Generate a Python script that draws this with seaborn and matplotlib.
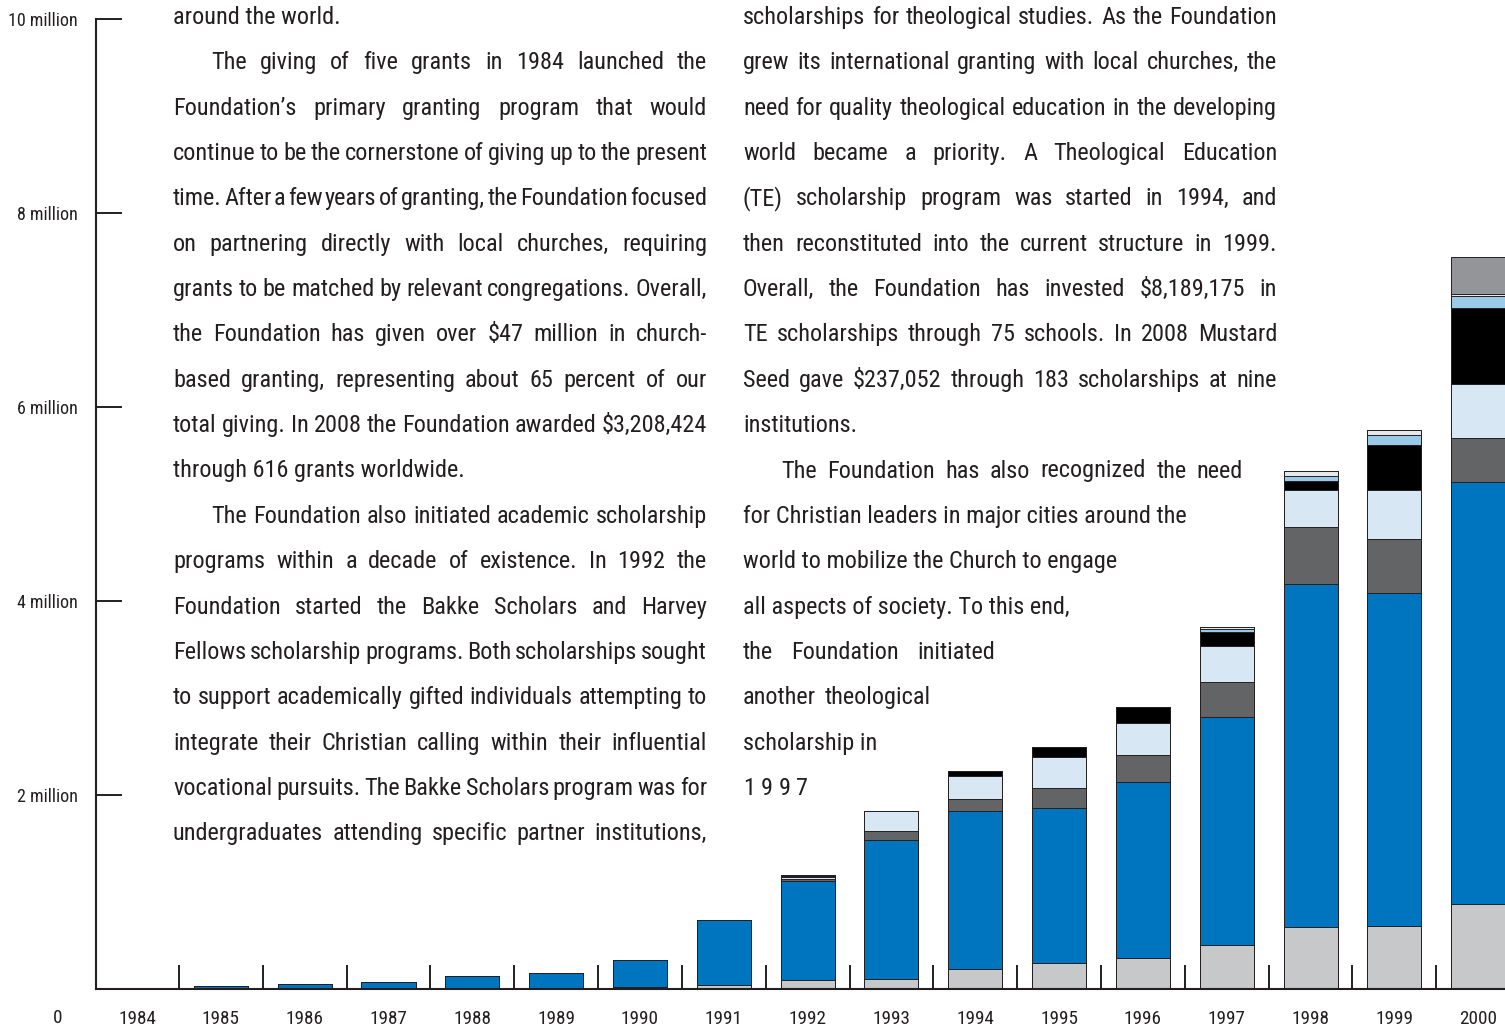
import matplotlib
matplotlib.use("Agg")
import numpy as np
import pandas as pd
import matplotlib.pyplot as plt
import seaborn as sns
from matplotlib import font_manager

# grants per year in millions of dollars, stacked bottom -> top
years = [str(y) for y in range(1984, 2001)]
seg_light_gray = [0.015, 0, 0, 0, 0, 0, 0.02, 0.04, 0.09, 0.10, 0.21, 0.27, 0.32, 0.45, 0.64, 0.65, 0.88]
seg_blue = [0, 0.035, 0.05, 0.07, 0.13, 0.16, 0.28, 0.67, 1.02, 1.44, 1.62, 1.60, 1.81, 2.35, 3.54, 3.43, 4.35]
seg_dark_gray = [0, 0, 0, 0, 0, 0, 0, 0, 0.02, 0.09, 0.13, 0.20, 0.28, 0.37, 0.58, 0.56, 0.45]
seg_pale_blue = [0, 0, 0, 0, 0, 0, 0, 0, 0.02, 0.21, 0.24, 0.32, 0.33, 0.37, 0.38, 0.50, 0.56]
seg_black = [0, 0, 0, 0, 0, 0, 0, 0, 0.01, 0, 0.05, 0.11, 0.17, 0.14, 0.10, 0.47, 0.78]
seg_light_blue = [0, 0, 0, 0, 0, 0, 0, 0, 0.01, 0, 0, 0, 0, 0.03, 0.05, 0.10, 0.12]
seg_near_white = [0, 0, 0, 0, 0, 0, 0, 0, 0.01, 0, 0, 0, 0, 0.02, 0.05, 0.05, 0.03]
seg_mid_gray = [0, 0, 0, 0, 0, 0, 0, 0, 0, 0, 0, 0, 0, 0, 0, 0, 0.38]

ytick_vals = [2, 4, 6, 8, 10]
ytick_labels = ["2 million", "4 million", "6 million", "8 million", "10 million"]

left_lines = [
    ("around the world.", "l"),
    ("The giving of five grants in 1984 launched the", "ij"),
    ("Foundation\u2019s primary granting program that would", "j"),
    ("continue to be the cornerstone of giving up to the present", "j"),
    ("time. After a few years of granting, the Foundation focused", "j"),
    ("on partnering directly with local churches, requiring", "j"),
    ("grants to be matched by relevant congregations. Overall,", "j"),
    ("the Foundation has given over $47 million in church-", "j"),
    ("based granting, representing about 65 percent of our", "j"),
    ("total giving. In 2008 the Foundation awarded $3,208,424", "j"),
    ("through 616 grants worldwide.", "l"),
    ("The Foundation also initiated academic scholarship", "ij"),
    ("programs within a decade of existence. In 1992 the", "j"),
    ("Foundation started the Bakke Scholars and Harvey", "j"),
    ("Fellows scholarship programs. Both scholarships sought", "j"),
    ("to support academically gifted individuals attempting to", "j"),
    ("integrate their Christian calling within their influential", "j"),
    ("vocational pursuits. The Bakke Scholars program was for", "j"),
    ("undergraduates attending specific partner institutions,", "j"),
]
right_lines = [
    ("scholarships for theological studies. As the Foundation", "j"),
    ("grew its international granting with local churches, the", "j"),
    ("need for quality theological education in the developing", "j"),
    ("world became a priority. A Theological Education", "j"),
    ("(TE) scholarship program was started in 1994, and", "j"),
    ("then reconstituted into the current structure in 1999.", "j"),
    ("Overall, the Foundation has invested $8,189,175 in", "j"),
    ("TE scholarships through 75 schools. In 2008 Mustard", "j"),
    ("Seed gave $237,052 through 183 scholarships at nine", "j"),
    ("institutions.", "l"),
    ("The Foundation has also recognized the need", "ij"),
    ("for Christian leaders in major cities around the", "l"),
    ("world to mobilize the Church to engage", "l"),
    ("all aspects of society. To this end,", "l"),
    ("the Foundation initiated", "j"),
    ("another theological", "j"),
    ("scholarship in", "l"),
    ("1 9 9 7", "j"),
]

colors = ["#c7c8ca", "#0075bf", "#636466", "#d8e7f4", "#000000", "#9bc9e8", "#e6e7e8", "#939598"]
ink = "#231f20"

sns.set_theme(style="white")

W, H = 1505, 1029
fig = plt.figure(figsize=(W / 100, H / 100), dpi=100)
ax = fig.add_axes([96 / W, 40 / H, 1 - 96 / W, 970 / H])

# pick a condensed face if available
names = {f.name for f in font_manager.fontManager.ttflist}
font_kw = {"family": "DejaVu Sans", "stretch": "condensed"}
for cand in ["Liberation Sans Narrow", "Roboto Condensed", "Open Sans Condensed"]:
    if cand in names:
        font_kw = {"family": cand}
        break

renderer = fig.canvas.get_renderer()


def measure(s, size):
    t = fig.text(0, 0, s, fontsize=size, parse_math=False, **font_kw)
    w = t.get_window_extent(renderer).width
    t.remove()
    return w


body_size = 20 * 290 / measure("through 616 grants worldwide.", 20)
tick_size = 14 * 70 / measure("10 million", 14)
year_size = 14 * 38 / measure("1984", 14)

# stacked bars: draw cumulative totals from the top segment down
stack = np.array([seg_light_gray, seg_blue, seg_dark_gray, seg_pale_blue,
                  seg_black, seg_light_blue, seg_near_white, seg_mid_gray])
cum = np.cumsum(stack, axis=0)
df = pd.DataFrame(cum.T, columns=[f"c{k}" for k in range(len(colors))])
df["year"] = years
for k in reversed(range(len(colors))):
    sns.barplot(data=df, x="year", y=f"c{k}", color=colors[k], saturation=1,
                width=0.645, edgecolor=ink, linewidth=0.7, errorbar=None, ax=ax)

ax.set_xlim(-0.49, 16.32)
ax.set_ylim(0, 10)
ax.set_xlabel("")
ax.set_ylabel("")
for side in ["top", "right"]:
    ax.spines[side].set_visible(False)
for side in ["left", "bottom"]:
    ax.spines[side].set_linewidth(1.5)
    ax.spines[side].set_color(ink)

ax.set_xticks(np.arange(len(years)))
ax.set_xticklabels(years)
ax.set_xticks(np.arange(0.5, len(years) - 1), minor=True)
ax.tick_params(axis="x", which="major", bottom=True, length=0, pad=15,
               labelsize=year_size, labelcolor=ink)
ax.tick_params(axis="x", which="minor", bottom=True, direction="in", length=17.5,
               width=1.4, color=ink)
ax.set_yticks(ytick_vals)
ax.set_yticklabels(ytick_labels)
ax.tick_params(axis="y", which="major", left=True, direction="in", length=18.7,
               width=1.4, color=ink, pad=13, labelsize=tick_size, labelcolor=ink)
for lab in ax.get_xticklabels() + ax.get_yticklabels():
    lab.set_fontfamily(font_kw["family"])
    if "stretch" in font_kw:
        lab.set_fontstretch(font_kw["stretch"])
fig.text(62 / W, 1 - 1018 / H, "0", ha="right", va="center", fontsize=year_size,
         color=ink, **font_kw)


def put_line(s, mode, x0, x1, y):
    kw = dict(fontsize=body_size, color=ink, va="baseline", parse_math=False, **font_kw)
    if mode.startswith("i"):
        x0 += 38
    if "j" not in mode:
        fig.text(x0 / W, 1 - y / H, s, **kw)
        return
    words = s.split()
    widths = [measure(w, body_size) for w in words]
    gap = (x1 - x0 - sum(widths)) / max(len(words) - 1, 1)
    x = x0
    for w, wd in zip(words, widths):
        fig.text(x / W, 1 - y / H, w, **kw)
        x += wd + gap


line_step = 45.35
for i, (s, mode) in enumerate(left_lines):
    put_line(s, mode, 173, 707, 24 + i * line_step)

right_edges = [1277] * 10 + [1243, 1182, 1121, 1057, 995, 931, 870, 808]
for i, (s, mode) in enumerate(right_lines):
    put_line(s, mode, 743, right_edges[i], 24 + i * line_step)

fig.savefig("out.png", dpi=100)
